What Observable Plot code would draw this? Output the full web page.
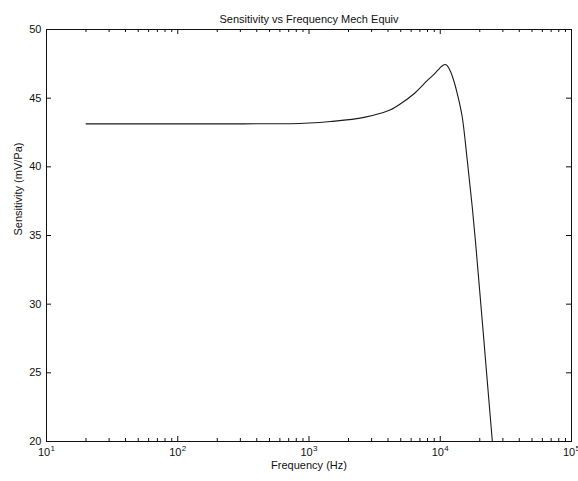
<!DOCTYPE html>
<html><head><meta charset="utf-8">
<script src="https://cdn.jsdelivr.net/npm/d3@7"></script>
<script src="https://cdn.jsdelivr.net/npm/@observablehq/plot@0.6"></script>
<style>body{margin:0;background:#fff}</style>
</head><body><div id="chart"></div>
<script>
const title = "Sensitivity vs Frequency Mech Equiv";
const xLabel = "Frequency (Hz)";
const yLabel = "Sensitivity (mV/Pa)";

// Frequency (Hz) and sensitivity (mV/Pa)
const frequency = [20, 62, 316, 724, 1462, 2624, 3516, 4188, 4989, 6310, 7980, 8913, 9506, 9886, 10233, 10593, 10839, 11092, 11324, 11749, 12359, 12882, 13490, 14125, 14723, 16069, 17539, 18621, 22542, 24946];
const sensitivity = [43.13, 43.13, 43.13, 43.14, 43.3, 43.6, 43.9, 44.15, 44.59, 45.32, 46.29, 46.72, 47.0, 47.17, 47.31, 47.42, 47.45, 47.43, 47.35, 47.1, 46.6, 46.05, 45.32, 44.5, 43.61, 40.46, 37.06, 34.39, 25.0, 20.0];

const xTickValues = [10, 100, 1000, 10000, 100000];
const xTickExponents = ["1", "2", "3", "4", "5"];
const minorMultipliers = [2, 3, 4, 5, 6, 7, 8, 9];
const xMinorTicks = xTickValues.slice(0, -1).flatMap(d => minorMultipliers.map(m => d * m));
const yTickValues = [20, 25, 30, 35, 40, 45, 50];

const data = frequency.map((f, i) => ({f, s: sensitivity[i]}));

const W = 578, H = 481, mL = 46, mR = 7, mT = 29, mB = 40;
const innerW = W - mL - mR, innerH = H - mT - mB;
const majorLen = 5, minorLen = 3;
const ink = "#111";

const chart = Plot.plot({
  width: W, height: H,
  marginLeft: mL, marginRight: mR, marginTop: mT, marginBottom: mB,
  style: {fontFamily: "'Liberation Sans', Arial, sans-serif", fontSize: "11px", background: "#fff", color: ink},
  x: {type: "log", domain: [10, 100000], axis: null},
  y: {domain: [20, 50], axis: null},
  marks: [
    Plot.frame({stroke: ink, strokeWidth: 1}),
    // inward ticks bottom / top
    Plot.ruleX(xTickValues, {x: d => d, insetTop: innerH - majorLen, stroke: ink}),
    Plot.ruleX(xTickValues, {x: d => d, insetBottom: innerH - majorLen, stroke: ink}),
    Plot.ruleX(xMinorTicks, {x: d => d, insetTop: innerH - minorLen, stroke: ink}),
    Plot.ruleX(xMinorTicks, {x: d => d, insetBottom: innerH - minorLen, stroke: ink}),
    // inward ticks left / right
    Plot.ruleY(yTickValues, {y: d => d, insetRight: innerW - majorLen, stroke: ink}),
    Plot.ruleY(yTickValues, {y: d => d, insetLeft: innerW - majorLen, stroke: ink}),
    // curve
    Plot.line(data, {x: "f", y: "s", stroke: "#1a1a1a", strokeWidth: 1.1, curve: "monotone-x"}),
    // y tick labels
    Plot.text(yTickValues, {y: d => d, text: d => String(d), frameAnchor: "left", textAnchor: "end", dx: -5, fill: ink}),
    // x tick labels with superscript exponents
    Plot.text(xTickValues, {x: d => d, text: () => "10", frameAnchor: "bottom", dy: 14, dx: -2.5, fill: ink}),
    Plot.text(xTickValues, {x: d => d, text: (d, i) => xTickExponents[i], frameAnchor: "bottom", dy: 9, dx: 4, textAnchor: "start", fontSize: 8, fill: ink}),
    // axis labels and title
    Plot.text([xLabel], {text: d => d, frameAnchor: "bottom", dy: 27, fill: ink}),
    Plot.text([yLabel], {text: d => d, frameAnchor: "left", dx: -28, rotate: -90, fill: ink}),
    Plot.text([title], {text: d => d, frameAnchor: "top", dy: -14, fill: ink})
  ]
});
document.getElementById("chart").appendChild(chart);
</script>
</body></html>
